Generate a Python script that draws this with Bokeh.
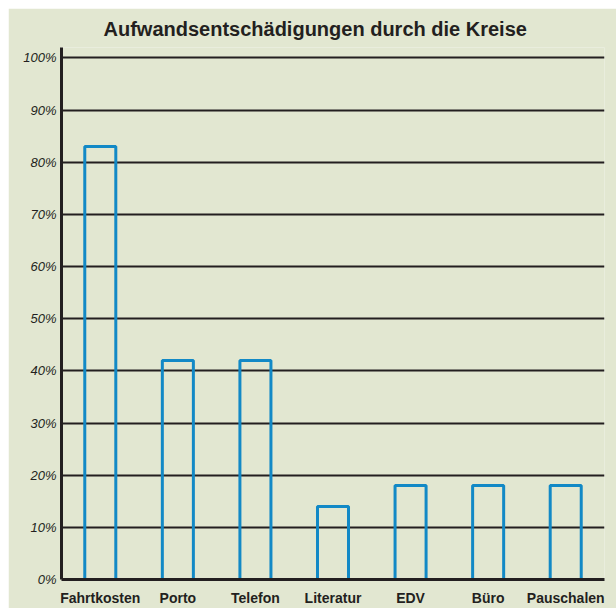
from bokeh.plotting import figure
from bokeh.embed import file_html
from bokeh.resources import INLINE
from bokeh.models import FixedTicker, Range1d, ColumnDataSource

categories = ["Fahrtkosten", "Porto", "Telefon", "Literatur", "EDV", "Büro", "Pauschalen"]
values = [83, 42, 42, 14, 18, 18, 18]
y_ticks = [0, 10, 20, 30, 40, 50, 60, 70, 80, 90, 100]
y_tick_labels = {t: f"{t}%" for t in y_ticks}

BG = "#e2e7d1"
DARK = "#231f20"
BLUE = "#1289c6"

src = ColumnDataSource(dict(cat=categories, val=values))

p = figure(x_range=categories, y_range=Range1d(0, 102), width=608, height=600,
           output_backend="svg", toolbar_location=None,
           title="Aufwandsentschädigungen durch die Kreise",
           min_border_left=53, min_border_right=12, min_border_top=39, min_border_bottom=29)
p.margin = (8, 0, 0, 8)
p.background_fill_color = BG
p.border_fill_color = BG
p.outline_line_color = None

p.title.align = "left"
p.title.text_font = "Liberation Sans"
p.title.text_font_size = "20px"
p.title.text_font_style = "bold"
p.title.text_color = DARK
p.title.offset = 42
p.title.standoff = 15

p.vbar(x="cat", top="val", width=0.4, bottom=0, source=src,
       fill_color=None, line_color=BLUE, line_width=3)

p.xgrid.grid_line_color = None
p.ygrid.grid_line_color = DARK
p.ygrid.grid_line_width = 2
p.ygrid.ticker = FixedTicker(ticks=y_ticks)

p.yaxis.ticker = FixedTicker(ticks=y_ticks)
p.yaxis.major_label_overrides = y_tick_labels
p.yaxis.axis_line_color = DARK
p.yaxis.axis_line_width = 3
p.yaxis.major_tick_out = 0
p.yaxis.major_tick_in = 0
p.yaxis.minor_tick_out = 0
p.yaxis.minor_tick_in = 0
p.yaxis.major_tick_line_color = None
p.yaxis.minor_tick_line_color = None
p.yaxis.major_label_text_font = "Liberation Sans"
p.yaxis.major_label_text_font_style = "italic"
p.yaxis.major_label_text_font_size = "13px"
p.yaxis.major_label_text_color = DARK
p.yaxis.major_label_standoff = 5

p.xaxis.axis_line_color = DARK
p.xaxis.axis_line_width = 3
p.xaxis.major_tick_out = 0
p.xaxis.major_tick_in = 0
p.xaxis.minor_tick_out = 0
p.xaxis.minor_tick_in = 0
p.xaxis.major_tick_line_color = None
p.xaxis.minor_tick_line_color = None
p.xaxis.major_label_text_font = "Liberation Sans"
p.xaxis.major_label_text_font_style = "bold"
p.xaxis.major_label_text_font_size = "14px"
p.xaxis.major_label_text_color = DARK
p.xaxis.major_label_standoff = 10

p.x_range.range_padding = 0

open("out.html", "w").write(file_html(p, INLINE))
